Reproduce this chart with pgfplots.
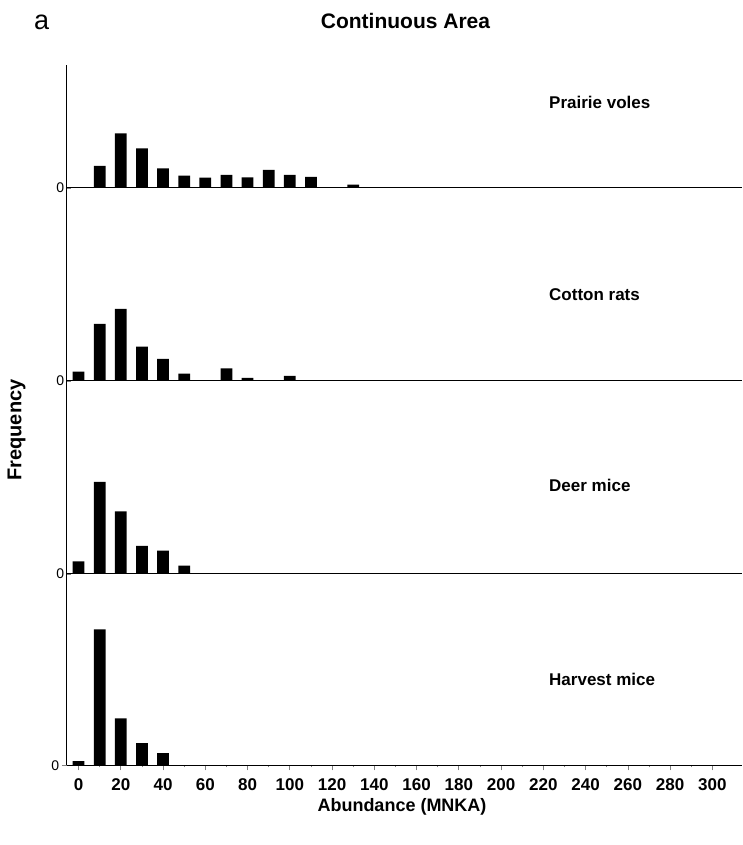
\documentclass[border=0pt]{standalone}
\usepackage{fontspec}
\setmainfont{Liberation Sans}
\usepackage{pgfplots}
\pgfplotsset{compat=1.18}
\begin{document}
\begin{tikzpicture}[x=1pt,y=1pt]
\path[use as bounding box] (0,0) rectangle (743,845);
\pgfplotsset{
  panel/.style={
    scale only axis, width=675.3pt,
    xmin=-5.6, xmax=314, ymin=0,
    axis x line*=bottom, axis y line*=left,
    axis line style={line width=1pt,-},
    ybar, bar width=11.7pt,
    ytick={0},
    yticklabel style={font=\fontsize{14}{14}\selectfont, xshift=1pt},
    ytick style={line width=0.6pt},
    major tick length=4pt,
    anchor=south west,
    xtick=\empty,
    /pgf/number format/assume math mode=true,
    clip=false,
  }
}
% Prairie voles
\begin{axis}[panel, at={(66.7pt,657pt)}, height=123pt, ymax=123]
\addplot[fill=black, draw=none] coordinates {(10,22) (20,54.7) (30,39.7) (40,19.7) (50,12.3) (60,10.3) (70,13) (80,10.7) (90,18) (100,13) (110,11) (130,3.3)};
\end{axis}
% Cotton rats
\begin{axis}[panel, at={(66.7pt,464pt)}, height=193pt, ymax=193]
\addplot[fill=black, draw=none] coordinates {(0,9.3) (10,57) (20,72) (30,34.3) (40,22) (50,7.3) (70,12.7) (80,3) (100,5)};
\end{axis}
% Deer mice
\begin{axis}[panel, at={(66.7pt,271pt)}, height=193pt, ymax=193]
\addplot[fill=black, draw=none] coordinates {(0,12.7) (10,92) (20,62.6) (30,28) (40,23.3) (50,8.3)};
\end{axis}
% Harvest mice
\begin{axis}[panel, at={(66.7pt,79.5pt)}, height=191.5pt, ymax=191.5,
  xtick={0,20,...,300}, minor x tick num=1,
  xtick style={line width=0.8pt},
  x tick label style={font=\bfseries\fontsize{17}{17}\selectfont, yshift=-5pt},
  tick align=outside, major tick length=5pt, minor tick length=2pt]
\addplot[fill=black, draw=none] coordinates {(0,4.3) (10,136) (20,47) (30,22.3) (40,12.3)};
\end{axis}
\node[anchor=base west, inner sep=0, font=\bfseries\fontsize{17}{17}\selectfont] at (549,736) {Prairie voles};
\node[anchor=base west, inner sep=0, font=\bfseries\fontsize{17}{17}\selectfont] at (549,544) {Cotton rats};
\node[anchor=base west, inner sep=0, font=\bfseries\fontsize{17}{17}\selectfont] at (549,353.3) {Deer mice};
\node[anchor=base west, inner sep=0, font=\bfseries\fontsize{17}{17}\selectfont] at (549,159) {Harvest mice};
\node[anchor=base west, inner sep=0, font=\bfseries\fontsize{21}{21}\selectfont] at (320.7,816.7) {Continuous Area};
\node[anchor=base west, inner sep=0, font=\fontsize{27}{27}\selectfont] at (34,815.7) {a};
\node[rotate=90, inner sep=0, font=\bfseries\fontsize{20}{20}\selectfont] at (16.5,415) {Frequency};
\node[anchor=base, inner sep=0, font=\bfseries\fontsize{18}{18}\selectfont] at (402,33) {Abundance (MNKA)};
\end{tikzpicture}
\end{document}
